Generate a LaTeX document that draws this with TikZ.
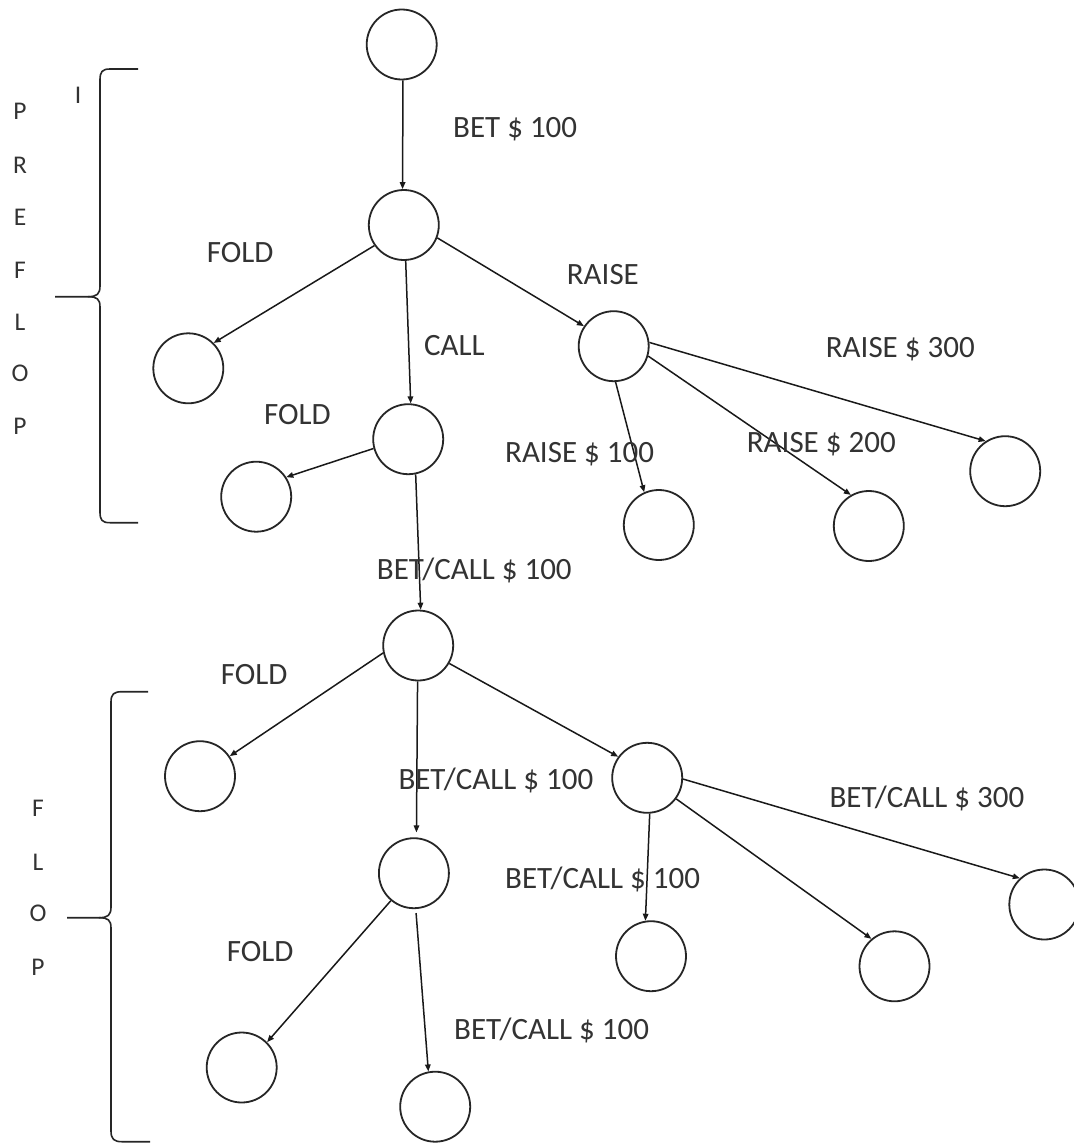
\documentclass[tikz,border=0pt]{standalone}
\usepackage{fontspec}
\setmainfont{Carlito}
\usetikzlibrary{arrows.meta}
\tikzset{
  state/.style={draw=black!85, circle, line width=1.8pt, minimum size=70pt, inner sep=0pt},
  edge/.style={draw=black!90, line width=1.5pt, -{Triangle[length=7pt,width=5.5pt]}},
  lbl/.style={inner sep=0pt, anchor=base west, font=\fontsize{31}{37}\selectfont, text=black!80},
  side/.style={inner sep=0pt, anchor=base, font=\fontsize{25.5}{30}\selectfont, text=black!80},
  brace/.style={line width=1.6pt, draw=black!85}
}
\begin{document}
\begin{tikzpicture}[x=1pt, y=-1pt]
\useasboundingbox[fill=white] (0,0) rectangle (1073,1145);
% nodes (preflop)
\node[state] (root) at (401.7,44.5) {};
\node[state] (n1) at (403.8,225) {};
\node[state] (fold1) at (188.3,368.3) {};
\node[state] (raise) at (613.7,346.2) {};
\node[state] (call) at (408.2,439.2) {};
\node[state] (fold2) at (256.2,496.7) {};
\node[state] (r100) at (658.8,525) {};
\node[state] (r200) at (868.8,526) {};
\node[state] (r300) at (1005.2,471.2) {};
% nodes (flop)
\node[state] (froot) at (418.2,645.5) {};
\node[state] (ffold) at (200,776.2) {};
\node[state] (fraise) at (647.2,777.8) {};
\node[state] (fcall) at (413.9,873.2) {};
\node[state] (b100) at (651,956.2) {};
\node[state] (b200) at (894.5,966.3) {};
\node[state] (b300) at (1044.3,904.5) {};
\node[state] (ffold2) at (241.7,1067.5) {};
\node[state] (fcleaf) at (435.2,1106.7) {};
% edges
\draw[edge] (root.-88) -- (n1.92);
\draw[edge] (n1.215) -- (fold1.45);
\draw[edge] (n1.-87) -- (call.86);
\draw[edge] (n1.-21) -- (raise.146);
\draw[edge] (raise.-87) -- (r100.114);
\draw[edge] (raise.-16) -- (r200.120);
\draw[edge] (raise.6) -- (r300.123);
\draw[edge] (call.195) -- (fold2.33);
\draw[edge] (call.-78) -- (froot.86);
\draw[edge] (froot.192) -- (ffold.34);
\draw[edge, shorten >=5pt] (froot.-91) -- (fcall.86);
\draw[edge] (froot.-30) -- (fraise.144);
\draw[edge] (fraise.-86) -- (b100.99);
\draw[edge] (fraise.-36) -- (b200.130);
\draw[edge] (fraise.-2) -- (b300.133);
\draw[edge] (fcall.230) -- (ffold2.45);
\draw[edge, shorten <=4pt] (fcall.-87) -- (fcleaf.101);
% labels
\node[lbl] (lbet) at (453,137.3) {BET \$ 100};
\node[lbl] (lfold1) at (206.7,262.7) {FOLD};
\node[lbl] (lraise) at (566.7,284) {RAISE};
\node[lbl] (lcall) at (424,355.7) {CALL};
\node[lbl] (lr300) at (825.7,357.3) {RAISE \$ 300};
\node[lbl] (lfold2) at (264,424.3) {FOLD};
\node[lbl] (lr100) at (505,462.7) {RAISE \$ 100};
\node[lbl] (lr200) at (746.7,452.3) {RAISE \$ 200};
\node[lbl] (lbc1) at (376.7,579.3) {BET/CALL \$ 100};
\node[lbl] (lfold3) at (220.7,684) {FOLD};
\node[lbl] (lbc2) at (398.3,789.3) {BET/CALL \$ 100};
\node[lbl] (lbc3) at (829.3,807.7) {BET/CALL \$ 300};
\node[lbl] (lbc4) at (505,888) {BET/CALL \$ 100};
\node[lbl] (lfold4) at (226.7,961) {FOLD};
\node[lbl] (lbc5) at (454,1039.3) {BET/CALL \$ 100};
% side letters
\node[side] (sI) at (78,103.3) {I};
\node[side] (p1) at (20,120) {P};
\node[side] (p2) at (20,173.3) {R};
\node[side] (p3) at (20,225.7) {E};
\node[side] (p4) at (20,278.3) {F};
\node[side] (p5) at (20,330) {L};
\node[side] (p6) at (20,381.7) {O};
\node[side] (p7) at (20,434) {P};
\node[side] (f1) at (38,816.7) {F};
\node[side] (f2) at (38,870.7) {L};
\node[side] (f3) at (38,921.7) {O};
\node[side] (f4) at (38,975) {P};
% braces
\draw[brace] (138,69) -- (110,69) .. controls (102,69) and (100,72) .. (100,80)
  -- (100,286) .. controls (100,294) and (97,296.7) .. (88,296.7) -- (55,296.7);
\draw[brace] (88,296.7) .. controls (97,296.7) and (100,299) .. (100,307)
  -- (100,512) .. controls (100,520) and (102,522.7) .. (110,522.7) -- (138,522.7);
\draw[brace] (148,691.7) -- (122,691.7) .. controls (114,691.7) and (111,694) .. (111,702)
  -- (111,907) .. controls (111,915) and (108,917.7) .. (99,917.7) -- (67,917.7);
\draw[brace] (99,917.7) .. controls (108,917.7) and (111,920) .. (111,928)
  -- (111,1131) .. controls (111,1139) and (114,1141.7) .. (122,1141.7) -- (150,1141.7);
\end{tikzpicture}
\end{document}
